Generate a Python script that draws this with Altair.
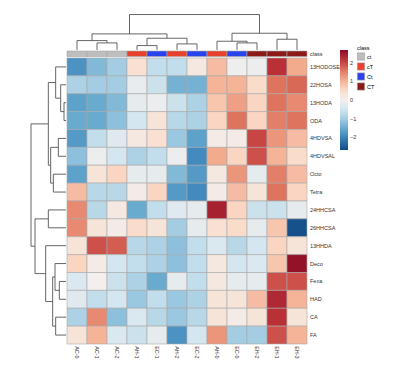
import altair as alt
import pandas as pd

# ---------------- data ----------------
col_labels = ["AC-0", "AC-1", "AC-2", "AH-1", "EC-1", "AH-2", "EC-2", "AH-0", "EC-0", "EH-2", "EH-1", "EH-3"]
col_class = ["ct", "ct", "ct", "cT", "Ct", "cT", "Ct", "cT", "Ct", "CT", "CT", "CT"]

row_labels = ["13HODOSEA", "22HOSA", "13HODA", "ODA", "4HDVSA", "4HDVSAL", "Octo", "Tetra",
              "24HHCSA", "26HHCSA", "13HHDA", "Deco", "Fexa", "HAD", "CA", "FA"]

r_13HODOSEA = [-1.8, -1.3, -1.0, 0.4, -0.7, -0.7, 0.2, 0.9, -0.05, -0.1, 2.2, 1.1]
r_22HOSA = [-0.9, -1.0, -1.0, -0.15, -0.6, -1.4, -1.4, 1.0, 1.0, 0.5, 1.6, 1.7]
r_13HODA = [-1.6, -1.5, -1.3, -0.2, -0.1, -0.6, -0.9, 0.8, 1.2, 0.6, 1.6, 1.4]
r_ODA = [-1.5, -1.5, -1.2, -0.5, 0.3, -0.8, -0.9, 0.6, 1.6, 0.6, 1.5, 1.6]
r_4HDVSA = [-1.7, -0.7, -0.3, 0.2, 0.4, -1.1, -1.6, 0.1, 0.1, 2.0, 1.3, 0.9]
r_4HDVSAL = [-1.2, -0.1, -0.5, -0.9, -0.7, -0.1, -1.9, 1.1, 0.6, 1.9, 1.0, 0.5]
r_Octo = [-1.6, 0.3, 0.6, -0.2, -0.2, -1.3, -1.7, 0.2, 1.3, -0.2, 1.5, 0.9]
r_Tetra = [0.9, -0.8, -0.8, 0.1, 0.6, -1.7, -1.9, 0.1, 0.9, 0.3, 1.6, 0.6]
r_24HHCSA = [1.4, -0.8, 0.2, -1.5, -0.7, -0.3, -0.2, 2.4, 0.6, -0.6, -0.6, -0.2]
r_26HHCSA = [1.4, 0.3, 0.1, 0.5, 0.3, -1.0, -0.2, 0.4, 0.5, -0.2, 0.8, -2.6]
r_13HHDA = [0.3, 1.9, 1.8, -0.8, -0.9, -1.2, -0.7, -0.4, -0.8, -0.5, 0.6, 0.3]
r_Deco = [0.6, 0.1, -0.5, -0.7, -0.9, -1.2, -0.7, 0.2, -0.5, -0.4, 0.8, 2.6]
r_Fexa = [-0.4, 0.0, -0.6, -0.9, -1.5, -0.2, -0.7, 0.2, -0.2, -0.2, 1.9, 1.9]
r_HAD = [-0.3, -0.7, -0.5, -1.1, -0.7, -1.1, -0.9, 0.3, 0.3, 0.9, 2.3, 1.0]
r_CA = [-0.9, 1.4, -1.2, -0.4, -0.8, -1.1, -0.8, 0.3, 0.1, 0.3, 2.2, 0.3]
r_FA = [0.3, 1.0, -0.4, -0.6, -0.2, -1.8, -0.5, 1.3, -1.0, -1.0, 1.9, 1.0]

row_values = [r_13HODOSEA, r_22HOSA, r_13HODA, r_ODA, r_4HDVSA, r_4HDVSAL, r_Octo, r_Tetra,
              r_24HHCSA, r_26HHCSA, r_13HHDA, r_Deco, r_Fexa, r_HAD, r_CA, r_FA]

class_levels = ["ct", "cT", "Ct", "CT"]
class_colors = ["#BEBEBE", "#E8412C", "#2843EE", "#8C1A18"]

legend_ticks = [-2, -1, 0, 1, 2]

# dendrogram merges (child_a, child_b, height); leaves are 0..n-1, new nodes n, n+1, ...
col_merges = [(1, 2, 21), (0, 12, 28), (3, 4, 13), (5, 6, 18), (14, 15, 35), (13, 16, 48),
              (8, 9, 21), (7, 18, 26), (10, 11, 32), (19, 20, 50), (17, 21, 106)]
row_merges = [(2, 3, 6), (1, 16, 16), (0, 17, 31), (4, 5, 23), (6, 7, 38), (19, 20, 46),
              (18, 21, 53), (8, 9, 53), (12, 13, 20), (11, 24, 33), (14, 15, 31), (25, 26, 40),
              (10, 27, 61), (23, 28, 93), (22, 29, 105)]

# ---------------- layout constants ----------------
X_MIN, X_MAX = -1.8, 12.0
Y_MIN, Y_MAX = -2.46, 16.0
TOP_LEAF, TOP_SPAN = -0.45, 1.98
LEFT_LEAF, LEFT_SPAN = -0.05, 1.75
CLASS_Y, CLASS_Y2 = -0.39, -0.08


def dendro_segments(n, merges):
    pos = {i: i + 0.5 for i in range(n)}
    hgt = {i: 0.0 for i in range(n)}
    segs = []
    for k, (a, b, h) in enumerate(merges):
        node = n + k
        pos[node] = (pos[a] + pos[b]) / 2
        hgt[node] = h
        segs.append((pos[a], pos[b], h, h))
        segs.append((pos[a], pos[a], hgt[a], h))
        segs.append((pos[b], pos[b], hgt[b], h))
    return segs, max(h for _, _, h in merges)


# heatmap cells
cells = []
for i, (name, vals) in enumerate(zip(row_labels, row_values)):
    for j, v in enumerate(vals):
        cells.append({"x": j, "x2": j + 1, "y": i, "y2": i + 1, "value": v,
                      "row": name, "col": col_labels[j]})
cells_df = pd.DataFrame(cells)

class_df = pd.DataFrame({"x": list(range(12)), "x2": [j + 1 for j in range(12)],
                         "y": [CLASS_Y] * 12, "y2": [CLASS_Y2] * 12, "cls": col_class})

# dendrograms
segs, hmax = dendro_segments(12, col_merges)
top_df = pd.DataFrame([{"x": p, "x2": p2, "y": TOP_LEAF - h * TOP_SPAN / hmax,
                        "y2": TOP_LEAF - h2 * TOP_SPAN / hmax} for p, p2, h, h2 in segs])
segs, hmax = dendro_segments(16, row_merges)
left_df = pd.DataFrame([{"y": p, "y2": p2, "x": LEFT_LEAF - h * LEFT_SPAN / hmax,
                         "x2": LEFT_LEAF - h2 * LEFT_SPAN / hmax} for p, p2, h, h2 in segs])

row_lab_df = pd.DataFrame({"x": [12.15] * 16, "y": [i + 0.5 for i in range(16)], "t": row_labels})
col_lab_df = pd.DataFrame({"x": [j + 0.5 for j in range(12)], "y": [16.12] * 12, "t": col_labels})
class_lab_df = pd.DataFrame({"x": [12.15], "y": [(CLASS_Y + CLASS_Y2) / 2], "t": ["class"]})

xs = alt.Scale(domain=[X_MIN, X_MAX], nice=False, zero=False)
ys = alt.Scale(domain=[Y_MIN, Y_MAX], nice=False, zero=False, reverse=True)
FONT = "Liberation Sans"

heat = alt.Chart(cells_df).mark_rect(stroke="#A8A8A8", strokeWidth=0.6).encode(
    x=alt.X("x:Q", scale=xs, axis=None), x2="x2:Q",
    y=alt.Y("y:Q", scale=ys, axis=None), y2="y2:Q",
    color=alt.Color("value:Q",
                    scale=alt.Scale(scheme="redblue", reverse=True, domain=[-2.67, 2.67]),
                    legend=alt.Legend(orient="none", legendX=309, legendY=36, title=None,
                                      direction="vertical", gradientLength=100,
                                      gradientThickness=8, values=legend_ticks,
                                      labelFontSize=5.5, labelFont=FONT, labelColor="#333",
                                      labelOffset=2, padding=0, gradientStrokeWidth=0)),
)

classbar = alt.Chart(class_df).mark_rect(stroke="#A8A8A8", strokeWidth=0.6).encode(
    x=alt.X("x:Q", scale=xs, axis=None), x2="x2:Q",
    y=alt.Y("y:Q", scale=ys, axis=None), y2="y2:Q",
    color=alt.Color("cls:N", scale=alt.Scale(domain=class_levels, range=class_colors),
                    legend=alt.Legend(orient="none", legendX=326, legendY=32, title="class",
                                      titleFontSize=5.5, titleFont=FONT, titleFontWeight="normal",
                                      titlePadding=1, labelFontSize=5.5, labelFont=FONT,
                                      symbolType="square", symbolSize=52,
                                      symbolStrokeColor="#999", symbolStrokeWidth=0.6,
                                      rowPadding=0, labelOffset=2, padding=0)),
)

top_dendro = alt.Chart(top_df).mark_rule(color="#555", strokeWidth=0.9).encode(
    x=alt.X("x:Q", scale=xs, axis=None), x2="x2:Q",
    y=alt.Y("y:Q", scale=ys, axis=None), y2="y2:Q",
)
left_dendro = alt.Chart(left_df).mark_rule(color="#555", strokeWidth=0.9).encode(
    x=alt.X("x:Q", scale=xs, axis=None), x2="x2:Q",
    y=alt.Y("y:Q", scale=ys, axis=None), y2="y2:Q",
)

row_text = alt.Chart(row_lab_df).mark_text(align="left", baseline="middle", fontSize=5.5,
                                           font=FONT, color="#333").encode(
    x=alt.X("x:Q", scale=xs, axis=None), y=alt.Y("y:Q", scale=ys, axis=None), text="t:N")
col_text = alt.Chart(col_lab_df).mark_text(align="left", baseline="middle", angle=90,
                                           fontSize=5.5, font=FONT, color="#333").encode(
    x=alt.X("x:Q", scale=xs, axis=None), y=alt.Y("y:Q", scale=ys, axis=None), text="t:N")
class_text = alt.Chart(class_lab_df).mark_text(align="left", baseline="middle", fontSize=5.5,
                                               font=FONT, color="#333").encode(
    x=alt.X("x:Q", scale=xs, axis=None), y=alt.Y("y:Q", scale=ys, axis=None), text="t:N")

chart = alt.layer(heat, classbar, top_dendro, left_dendro, row_text, col_text, class_text).resolve_scale(
    color="independent"
).properties(
    width=276, height=330,
    autosize=alt.AutoSizeParams(type="none"),
    padding={"left": 23, "top": 6, "right": 80, "bottom": 28},
).configure_view(stroke=None)

chart.save("out.html", embed_options={"renderer": "svg", "actions": False})
